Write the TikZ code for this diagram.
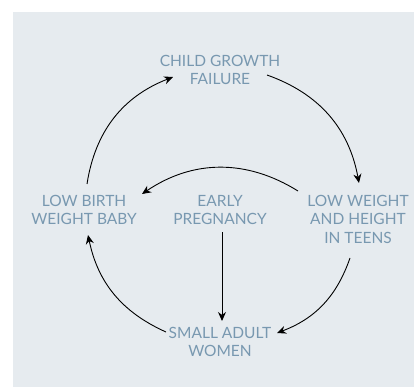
\documentclass[tikz,border=0pt]{standalone}
\usepackage{fontspec}
\setmainfont{Lato}
\usetikzlibrary{calc,arrows.meta}

\definecolor{panel}{HTML}{E6EBEF}
\definecolor{stagetext}{HTML}{7898B0}

\begin{document}
\begin{tikzpicture}[x=1pt,y=-1pt,
  stage/.style={text=stagetext, align=center, inner sep=0pt,
    font=\fontsize{15.5}{18.5}\selectfont},
  link/.style={-{Stealth[length=9pt,width=8pt]}, line width=0.9pt}]
  % fundalul
  \useasboundingbox (0,0) rectangle (414,387);
  \fill[panel] (13,12) rectangle (414,387);

  % etapele ciclului
  \node[stage] (cgf) at (220,70) {CHILD GROWTH\\FAILURE};
  \node[stage] (lbw) at (84,210) {LOW BIRTH\\WEIGHT BABY};
  \node[stage] (ep) at (220,210) {EARLY\\PREGNANCY};
  \node[stage] (lwt) at (358,219) {LOW WEIGHT\\AND HEIGHT\\IN TEENS};
  \node[stage] (saw) at (220,342) {SMALL ADULT\\WOMEN};

  % cercul
  \draw[link] ($(lbw)+(3,-26)$) to[bend left=30] ($(cgf)+(-47,7)$);
  \draw[link] ($(cgf)+(47,5)$) to[bend left=30] ($(lwt)+(1,-36)$);
  \draw[link] ($(lwt)+(-8,39)$) to[bend left=25] ($(saw)+(57,-9)$);
  \draw[link] ($(saw)+(-54,-10)$) to[bend left=27] ($(lbw)+(4,25)$);
  % legaturile din mijloc
  \draw[link] ($(lwt)+(-60,-28)$) to[bend right=33] ($(lbw)+(58,-16)$);
  \draw[link] ($(ep)+(2,22)$) -- ($(saw)+(2,-21)$);
\end{tikzpicture}
\end{document}
